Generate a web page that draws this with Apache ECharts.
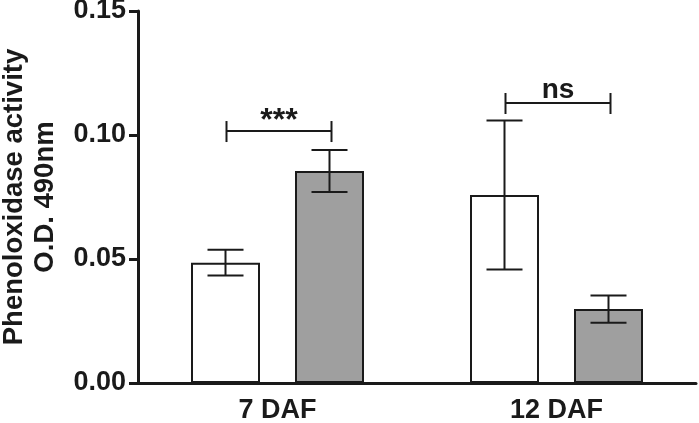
<!DOCTYPE html>
<html>
<head>
<meta charset="utf-8">
<script src="https://cdn.jsdelivr.net/npm/echarts@6/dist/echarts.min.js"></script>
<style>
  html, body { margin: 0; padding: 0; background: #fff; }
  #main { width: 699px; height: 423px; }
</style>
</head>
<body>
<div id="main"></div>
<script>
// values
var categories = ['7 DAF', '12 DAF'];
var controlMean = [0.0485, 0.0758];
var controlErr = [0.0052, 0.0300];
var treatedMean = [0.0855, 0.0298];
var treatedErr = [0.0085, 0.0055];
var sigLabels = ['***', 'ns'];
var sigLevel = [0.1016, 0.1129];
var yTicks = [0, 0.05, 0.10, 0.15];

var FONT = '"Liberation Sans", Arial, sans-serif';
var BAR_W = 69;
var BAR_GAP = 35;
var OFFSET = (BAR_W + BAR_GAP) / 2;
var INK = '#1a1a1a';

var myChart = echarts.init(document.getElementById('main'));

// error bar items: [category index, low, high, slot]
var errData = [];
for (var i = 0; i < categories.length; i++) {
  errData.push([i, controlMean[i] - controlErr[i], controlMean[i] + controlErr[i], 0]);
  errData.push([i, treatedMean[i] - treatedErr[i], treatedMean[i] + treatedErr[i], 1]);
}
var sigData = [];
for (var j = 0; j < categories.length; j++) {
  sigData.push([j, sigLevel[j]]);
}

function renderError(params, api) {
  var slot = api.value(3);
  var top = api.coord([api.value(0), api.value(2)]);
  var bot = api.coord([api.value(0), api.value(1)]);
  var x = top[0] + (slot === 0 ? -OFFSET : OFFSET);
  var cap = 18;
  var style = { stroke: INK, lineWidth: 2 };
  return {
    type: 'group',
    children: [
      { type: 'line', shape: { x1: x, y1: top[1], x2: x, y2: bot[1] }, style: style },
      { type: 'line', shape: { x1: x - cap, y1: top[1], x2: x + cap, y2: top[1] }, style: style },
      { type: 'line', shape: { x1: x - cap, y1: bot[1], x2: x + cap, y2: bot[1] }, style: style }
    ]
  };
}

function renderSig(params, api) {
  var p = api.coord([api.value(0), api.value(1)]);
  var x1 = p[0] - OFFSET + 1, x2 = p[0] + OFFSET + 2, y = p[1];
  var label = sigLabels[api.value(0)];
  // asterisks sit high in the glyph box, so drop them closer to the bracket
  var stars = label.indexOf('*') >= 0;
  var ty = stars ? y + 6 : y + 1;
  var style = { stroke: INK, lineWidth: 2 };
  return {
    type: 'group',
    children: [
      { type: 'line', shape: { x1: x1, y1: y, x2: x2, y2: y }, style: style },
      { type: 'line', shape: { x1: x1, y1: y - 10, x2: x1, y2: y + 11 }, style: style },
      { type: 'line', shape: { x1: x2, y1: y - 10, x2: x2, y2: y + 11 }, style: style },
      {
        type: 'text',
        x: (x1 + x2) / 2, y: ty,
        style: {
          text: label,
          fill: INK,
          font: 'bold ' + (stars ? 32 : 28) + 'px ' + FONT,
          align: 'center',
          verticalAlign: 'bottom'
        }
      }
    ]
  };
}

var option = {
  backgroundColor: '#fff',
  animation: false,
  grid: { left: 138, right: 3, top: 11, bottom: 40, containLabel: false, outerBoundsMode: 'none' },
  xAxis: {
    type: 'category',
    data: categories,
    axisLine: { lineStyle: { color: INK, width: 3 } },
    axisTick: { alignWithLabel: true, length: 10, lineStyle: { color: INK, width: 3 } },
    axisLabel: { color: INK, fontFamily: FONT, fontWeight: 'bold', fontSize: 27, margin: 14 },
    splitLine: { show: false }
  },
  yAxis: {
    type: 'value',
    min: yTicks[0],
    max: yTicks[yTicks.length - 1],
    interval: 0.05,
    name: 'Phenoloxidase activity\nO.D. 490nm',
    nameLocation: 'middle',
    nameGap: 77,
    nameTextStyle: { color: INK, fontFamily: FONT, fontWeight: 'bold', fontSize: 27.5, lineHeight: 31 },
    axisLine: { show: true, lineStyle: { color: INK, width: 3 } },
    axisTick: { show: true, length: 9, lineStyle: { color: INK, width: 3 } },
    axisLabel: {
      color: INK, fontFamily: FONT, fontWeight: 'bold', fontSize: 27, margin: 12,
      formatter: function (v) { return v.toFixed(2); }
    },
    splitLine: { show: false }
  },
  series: [
    {
      name: 'control',
      type: 'bar',
      data: controlMean,
      barWidth: BAR_W,
      barGap: (BAR_GAP / BAR_W * 100) + '%',
      itemStyle: { color: '#ffffff', borderColor: INK, borderWidth: 2 }
    },
    {
      name: 'treated',
      type: 'bar',
      data: treatedMean,
      barWidth: BAR_W,
      itemStyle: { color: '#9f9f9f', borderColor: INK, borderWidth: 2 }
    },
    {
      type: 'custom',
      renderItem: renderError,
      data: errData,
      clip: false,
      z: 5
    },
    {
      type: 'custom',
      renderItem: renderSig,
      data: sigData,
      clip: false,
      z: 5
    }
  ]
};
myChart.setOption(option);
</script>
</body>
</html>
